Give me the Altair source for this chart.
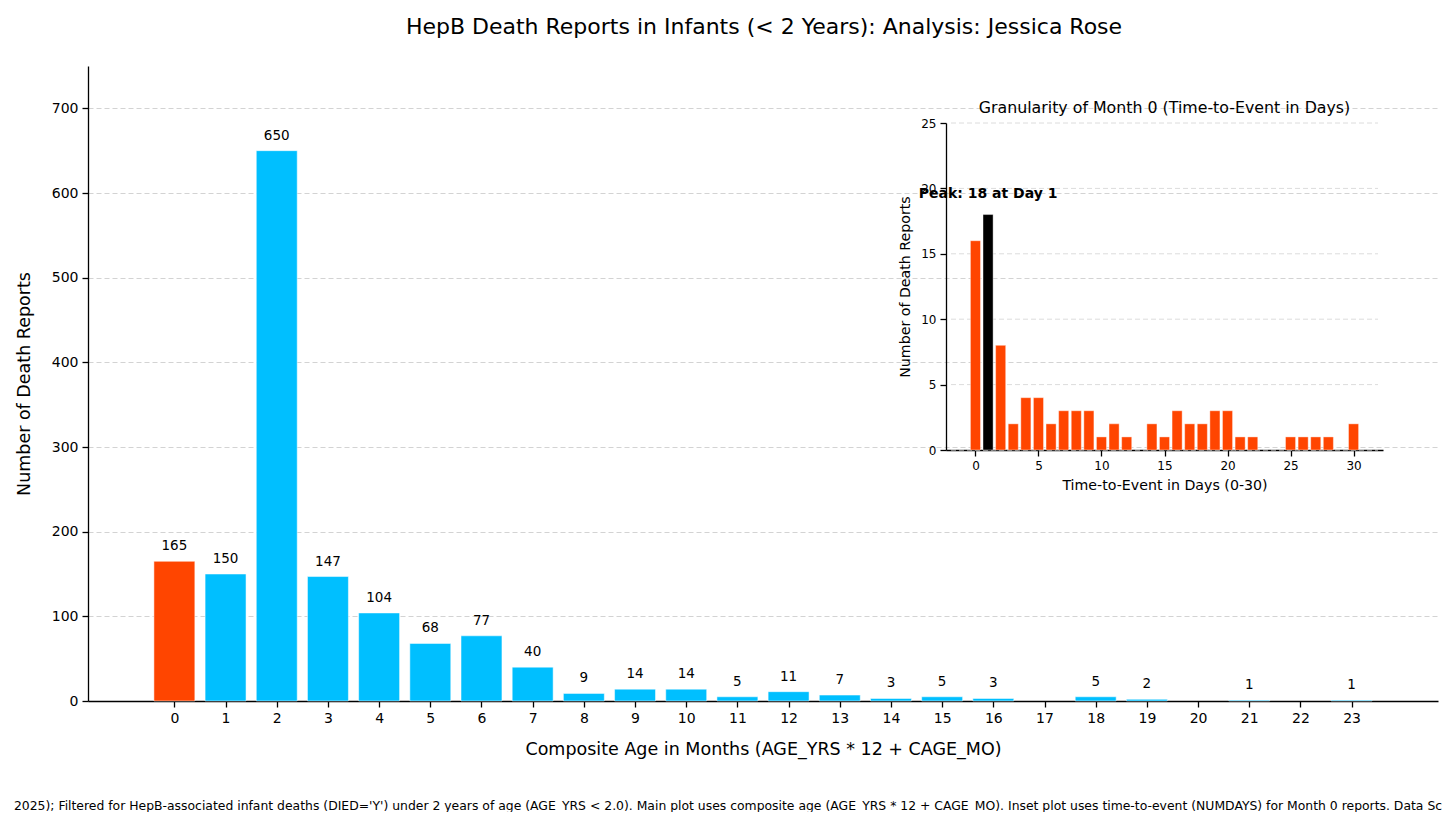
import altair as alt
import pandas as pd

FONT = "DejaVu Sans"
ORANGE = "#FF4500"
BLUE = "#00BFFF"

# ---- data ----
months = list(range(24))
month_counts = [165, 150, 650, 147, 104, 68, 77, 40, 9, 14, 14, 5, 11, 7, 3, 5, 3, 0, 5, 2, 0, 1, 0, 1]
days = list(range(31))
day_counts = [16, 18, 8, 2, 4, 4, 2, 3, 3, 3, 1, 2, 1, 0, 2, 1, 3, 2, 2, 3, 3, 1, 1, 0, 0, 1, 1, 1, 1, 0, 2]
main_y_ticks = [0, 100, 200, 300, 400, 500, 600, 700]
inset_x_ticks = [0, 5, 10, 15, 20, 25, 30]
inset_y_ticks = [0, 5, 10, 15, 20, 25]

TITLE = "HepB Death Reports in Infants (< 2 Years): Analysis: Jessica Rose"
INSET_TITLE = "Granularity of Month 0 (Time-to-Event in Days)"
FOOTNOTE = ("2025); Filtered for HepB-associated infant deaths (DIED='Y') under 2 years of age (AGE_YRS < 2.0). "
            "Main plot uses composite age (AGE_YRS * 12 + CAGE_MO). Inset plot uses time-to-event (NUMDAYS) "
            "for Month 0 reports. Data Sc")

main_df = pd.DataFrame({"month": months, "count": month_counts})
inset_df = pd.DataFrame({"day": days, "count": day_counts})
grid_df = pd.DataFrame({"v": inset_y_ticks})
ititle_df = pd.DataFrame({"t": [INSET_TITLE]})

W, H = 1350, 635
MAIN_XDOM = [-1.59, 24.59]
INSET_XDOM = [-1.94, 31.94]
INSET_XR = [858, 1295]
INSET_YR = [384, 57]

main_x = alt.Scale(domain=MAIN_XDOM, nice=False, zero=False)
main_y = alt.Scale(domain=[0, 750], nice=False)
inset_x = alt.Scale(domain=INSET_XDOM, range=INSET_XR, nice=False, zero=False)
inset_y = alt.Scale(domain=[0, 25], range=INSET_YR, nice=False)

MAIN_XTITLE = "Composite Age in Months (AGE_YRS * 12 + CAGE_MO)"
YTITLE = "Number of Death Reports"
INSET_XTITLE = "Time-to-Event in Days (0-30)"

# ---- main plot ----
base_main = alt.Chart(main_df).transform_filter("datum.count > 0").transform_calculate(
    x0="datum.month - 0.4", x1="datum.month + 0.4"
)
main_bars = base_main.mark_bar(orient="vertical", stroke="white", strokeOpacity=0.5, strokeWidth=1).encode(
    x=alt.X("x0:Q", scale=main_x, title=MAIN_XTITLE,
            axis=alt.Axis(values=months, grid=False, labelFontSize=14, titleFontSize=17.5,
                          titlePadding=15, orient="bottom")),
    x2="x1:Q",
    y=alt.Y("count:Q", scale=main_y, title=YTITLE,
            axis=alt.Axis(values=main_y_ticks, grid=True,
                          gridDash=[5, 3], gridColor="#d3d3d3", gridWidth=1,
                          labelFontSize=14, titleFontSize=17.5, titlePadding=18, orient="left")),
    color=alt.condition(alt.datum.month == 0, alt.value(ORANGE), alt.value(BLUE)),
)
main_labels = base_main.mark_text(
    baseline="bottom", dy=-8, fontSize=13.5, font=FONT, color="black"
).encode(
    x=alt.X("month:Q", title=MAIN_XTITLE),
    y=alt.Y("count:Q", title=YTITLE),
    text="count:Q",
)
main_layer = alt.layer(main_bars, main_labels)

# ---- inset plot ----
base_inset = alt.Chart(inset_df).transform_joinaggregate(maxc="max(count)").transform_filter(
    "datum.count > 0"
).transform_calculate(
    x0="datum.day - 0.4", x1="datum.day + 0.4"
)
inset_grid = alt.Chart(grid_df).mark_rule(strokeDash=[5, 3], color="#dcdcdc", strokeWidth=1).encode(
    y=alt.Y("v:Q", title=YTITLE),
    x=alt.XDatum(INSET_XDOM[0]),
    x2=alt.X2Datum(INSET_XDOM[1]),
)
inset_bars = base_inset.mark_bar(orient="vertical", stroke="white", strokeOpacity=0.5, strokeWidth=0.8).encode(
    x=alt.X("x0:Q", scale=inset_x, title=INSET_XTITLE,
            axis=alt.Axis(values=inset_x_ticks, grid=False,
                          orient="bottom", offset=-(H - INSET_YR[0]), labelFontSize=12,
                          titleFontSize=14.2, titlePadding=7)),
    x2="x1:Q",
    y=alt.Y("count:Q", scale=inset_y, title=YTITLE,
            axis=alt.Axis(values=inset_y_ticks, grid=False,
                          orient="left", offset=-INSET_XR[0], labelFontSize=12,
                          titleFontSize=14.2, titlePadding=8)),
    color=alt.condition("datum.count == datum.maxc", alt.value("black"), alt.value(ORANGE)),
)
inset_peak = base_inset.transform_filter("datum.count == datum.maxc").transform_calculate(
    label="'Peak: ' + datum.count + ' at Day ' + datum.day"
).mark_text(baseline="bottom", dy=-14, fontSize=14, fontWeight="bold", font=FONT, color="black").encode(
    x=alt.X("day:Q", title=INSET_XTITLE),
    y=alt.Y("count:Q", title=YTITLE),
    text="label:N",
)
inset_title = alt.Chart(ititle_df).mark_text(
    baseline="bottom", dy=-7, fontSize=15.8, font=FONT, color="black"
).encode(
    x=alt.XDatum((INSET_XDOM[0] + INSET_XDOM[1]) / 2),
    y=alt.YDatum(25),
    text="t:N",
)
inset_layer = alt.layer(inset_grid, inset_bars, inset_peak, inset_title)

combined = alt.layer(main_layer, inset_layer).resolve_scale(
    x="independent", y="independent"
).properties(
    width=W, height=H,
    title=alt.TitleParams(FOOTNOTE, orient="bottom", anchor="middle", fontSize=12.4,
                          font=FONT, fontWeight="normal", color="black", offset=42, dx=-35),
)

chart = alt.vconcat(combined).properties(
    title=alt.TitleParams(TITLE, fontSize=22, font=FONT, fontWeight="normal", color="black",
                          anchor="middle", offset=27, dx=36),
    padding={"left": 5, "top": 8, "right": 0, "bottom": 0},
).configure_view(stroke=None).configure_axis(
    domainColor="black", tickColor="black", labelColor="black", titleColor="black",
    labelFont=FONT, titleFont=FONT, titleFontWeight="normal", tickSize=6, labelPadding=4,
    domainWidth=1.3, tickWidth=1.3,
)

chart.save("out.html", embed_options={"renderer": "svg", "actions": False})
